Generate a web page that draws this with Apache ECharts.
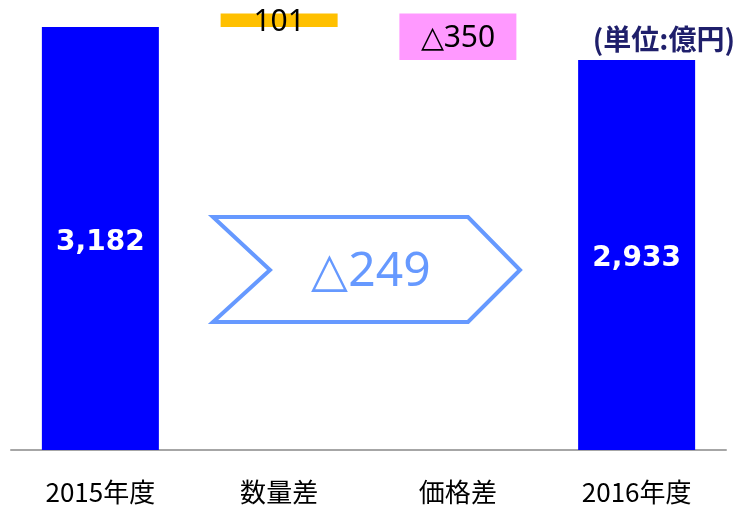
<!DOCTYPE html>
<html>
<head>
<meta charset="utf-8">
<script src="https://cdn.jsdelivr.net/npm/echarts@6/dist/echarts.min.js"></script>
<style>
  html, body { margin: 0; padding: 0; background: #fff; }
  #chart { width: 737px; height: 508px; }
</style>
</head>
<body>
<div id="chart"></div>
<script>
const categories = ['2015年度', '数量差', '価格差', '2016年度'];
const changes = [3182, 101, -350, 2933];
const isTotal = [true, false, false, true];
const barColors = ['#0000FF', '#FFC000', '#FF99FF', '#0000FF'];
const netChange = -249;

const fmt = (v) => (v < 0 ? '△' : '') + Math.abs(v).toLocaleString('en-US');

// waterfall: invisible base + visible part
const baseData = [];
const barData = [];
let running = 0;
changes.forEach((v, i) => {
  if (isTotal[i]) {
    baseData.push(0);
    barData.push(v);
    running = v;
  } else {
    const next = running + v;
    baseData.push(Math.min(running, next));
    barData.push(Math.abs(v));
    running = next;
  }
});

const chart = echarts.init(document.getElementById('chart'));

chart.setOption({
  animation: false,
  grid: { left: 11, right: 11, top: 0, bottom: 58 },
  xAxis: {
    type: 'category',
    data: categories,
    axisTick: { show: false },
    axisLine: { lineStyle: { color: '#A6A6A6', width: 2 } },
    axisLabel: {
      color: '#000',
      fontSize: 26,
      fontFamily: 'Noto Sans CJK JP',
      margin: 29
    }
  },
  yAxis: {
    type: 'value',
    min: 0,
    max: 3385,
    show: false,
    splitLine: { show: false }
  },
  series: [
    {
      type: 'bar',
      stack: 'w',
      data: baseData,
      itemStyle: { color: 'transparent' },
      silent: true
    },
    {
      type: 'bar',
      stack: 'w',
      barWidth: 117,
      data: barData.map((v, i) => {
        const total = isTotal[i];
        return {
          value: v,
          itemStyle: { color: barColors[i] },
          label: {
            show: true,
            position: 'inside',
            offset: total ? [0, 4] : [0, 2],
            formatter: fmt(changes[i]),
            color: total ? '#fff' : '#000',
            fontSize: total ? 28 : 30,
            fontWeight: total ? 'bold' : 'normal',
            fontFamily: total ? 'DejaVu Sans' : 'Noto Sans'
          }
        };
      })
    }
  ],
  graphic: [
    {
      type: 'polygon',
      shape: {
        points: [[213, 217], [468, 217], [520, 270], [468, 322], [213, 322], [270, 270]]
      },
      style: { fill: 'none', stroke: '#6699FF', lineWidth: 4 }
    },
    {
      type: 'text',
      x: 371,
      y: 272,
      style: {
        text: fmt(netChange),
        fill: '#6699FF',
        fontSize: 48,
        fontFamily: 'Noto Sans',
        align: 'center',
        verticalAlign: 'middle'
      }
    },
    {
      type: 'text',
      x: 735,
      y: 39,
      style: {
        text: '(単位:億円)',
        fill: '#1F1F6B',
        fontSize: 28,
        fontWeight: 'bold',
        fontFamily: 'Noto Sans CJK JP',
        align: 'right',
        verticalAlign: 'middle'
      }
    }
  ]
});
</script>
</body>
</html>
